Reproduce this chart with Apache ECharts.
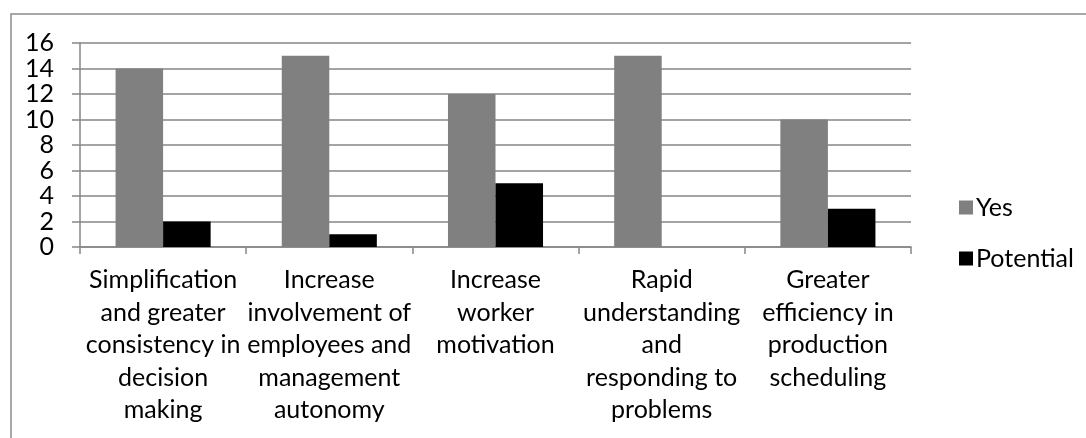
<!DOCTYPE html>
<html>
<head>
<meta charset="utf-8">
<script src="https://cdn.jsdelivr.net/npm/echarts@6/dist/echarts.min.js"></script>
<style>
html,body{margin:0;padding:0;background:#fff;}
#chart{width:1086px;height:438px;}
</style>
</head>
<body>
<div id="chart"></div>
<script>
var categories = [
  "Simplification\nand greater\nconsistency in\ndecision\nmaking",
  "Increase\ninvolvement of\nemployees and\nmanagement\nautonomy",
  "Increase\nworker\nmotivation",
  "Rapid\nunderstanding\nand\nresponding to\nproblems",
  "Greater\nefficiency in\nproduction\nscheduling"
];
var yesValues = [14, 15, 12, 15, 10];
var potentialValues = [2, 1, 5, 0, 3];
var seriesNames = ["Yes", "Potential"];

var FONT = "Lato";
var chart = echarts.init(document.getElementById('chart'), null, {renderer: 'canvas'});
chart.setOption({
  backgroundColor: '#ffffff',
  animation: false,
  graphic: [{
    type: 'rect',
    shape: {x: 11, y: 14, width: 1090, height: 440},
    style: {fill: 'none', stroke: '#8c8c8c', lineWidth: 1.5},
    silent: true
  }],
  grid: {left: 80, right: 175, top: 43, bottom: 191, containLabel: false},
  legend: {
    orient: 'vertical',
    left: 954,
    top: 190,
    itemWidth: 14,
    itemHeight: 14,
    itemGap: 26,
    icon: 'rect',
    textStyle: {fontFamily: FONT, fontSize: 25, color: '#000', lineHeight: 25, padding: [0, 0, 0, -2]},
    data: seriesNames
  },
  xAxis: {
    type: 'category',
    data: categories,
    axisLine: {show: true, lineStyle: {color: '#868686', width: 1.5}},
    axisTick: {show: true, length: 7, lineStyle: {color: '#868686', width: 1.5}},
    axisLabel: {
      interval: 0,
      margin: 17,
      fontFamily: FONT,
      fontSize: 25,
      lineHeight: 32.5,
      color: '#000',
      align: 'center'
    },
    splitLine: {show: false}
  },
  yAxis: {
    type: 'value',
    min: 0,
    max: 16,
    interval: 2,
    axisLine: {show: true, lineStyle: {color: '#868686', width: 1.5}},
    axisTick: {show: true, length: 8, lineStyle: {color: '#868686', width: 1.5}},
    axisLabel: {margin: 26, fontFamily: FONT, fontSize: 25, color: '#000'},
    splitLine: {show: true, lineStyle: {color: '#868686', width: 1.5}}
  },
  series: [
    {
      name: seriesNames[0],
      type: 'bar',
      data: yesValues,
      barGap: '0%',
      barCategoryGap: '42.8%',
      itemStyle: {color: '#808080'}
    },
    {
      name: seriesNames[1],
      type: 'bar',
      data: potentialValues,
      barGap: '0%',
      barCategoryGap: '42.8%',
      itemStyle: {color: '#000000'}
    }
  ]
});
</script>
</body>
</html>
